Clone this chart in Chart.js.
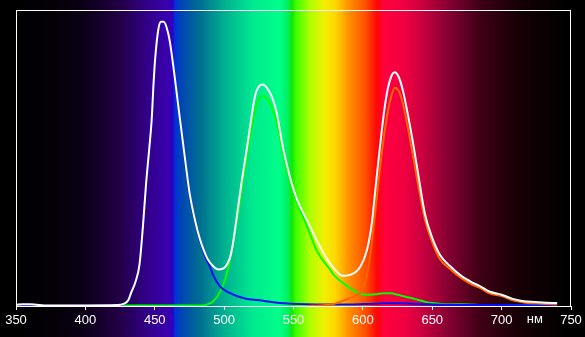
<!DOCTYPE html>
<html>
<head>
<meta charset="utf-8">
<script src="https://cdn.jsdelivr.net/npm/chart.js@4/dist/chart.umd.min.js"></script>
<style>
  html, body { margin: 0; padding: 0; background: #000; }
  #wrap { width: 585px; height: 337px; }
</style>
</head>
<body>
<div id="wrap"><canvas id="c" width="585" height="337"></canvas></div>
<script>
// ---- data (wavelength in nm, relative intensity) ----
const xTicks = [350, 400, 450, 500, 550, 600, 650, 700, 750];
const unitLabel = 'нм';

const whiteNm  = [350,355,360,365,370,400,423,428,431,433,436,439,441.5,443.7,446,447.8,449,450.2,452.6,454.5,456.5,459.5,461,463.4,465.8,468.2,472,475,479,482.6,486,488,492,496,500.5,504,506,508.5,510.7,513,516,519.4,522.3,524.6,527.8,531.6,535,538,542.4,547.5,552.5,559.7,567,574,581,585,590.7,598,603,606.6,608.5,610.5,613.8,616,618,620,621.5,623,626,629,632.5,636,639,644.8,650,655.6,662.8,670,678.6,684,691.6,700,708,716,724,732,740];
const whiteVal = [0.004,0.006,0.006,0.004,0.002,0.002,0.003,0.008,0.02,0.045,0.08,0.14,0.27,0.41,0.53,0.63,0.74,0.83,0.935,0.96,0.96,0.925,0.89,0.81,0.72,0.63,0.49,0.385,0.29,0.225,0.18,0.16,0.135,0.123,0.13,0.16,0.2,0.28,0.355,0.43,0.52,0.628,0.71,0.738,0.748,0.732,0.70,0.65,0.535,0.435,0.36,0.29,0.22,0.16,0.117,0.102,0.105,0.132,0.19,0.285,0.37,0.46,0.6,0.68,0.735,0.77,0.785,0.79,0.772,0.725,0.645,0.555,0.47,0.31,0.23,0.172,0.135,0.105,0.08,0.068,0.048,0.038,0.024,0.016,0.0135,0.011,0.01];

const blueNm  = [350,400,423,428,431,433,436,439,441.5,443.7,446,447.8,449,450.2,452.6,454.5,456.5,459.5,461,463.4,465.8,468.2,472,475,479,482.6,486,488,490,492,497,504,510,516.5,528,540,560,590,605,615,625,640,660,700,740];
const blueVal = [0.002,0.002,0.003,0.007,0.018,0.043,0.078,0.137,0.266,0.405,0.525,0.625,0.735,0.825,0.93,0.955,0.955,0.92,0.885,0.805,0.715,0.625,0.485,0.38,0.285,0.22,0.172,0.15,0.13,0.105,0.066,0.044,0.032,0.024,0.018,0.01,0.006,0.005,0.007,0.009,0.009,0.007,0.004,0.003,0.002];

const greenNm  = [427,485,487,492,497,502,506,510,513,516,519.4,522.3,525,528,531.6,535,538,542.4,547.5,552.5,559.7,567,576,580,588.5,595,600,605,610,615,620,625,630,635,640,645,650,657,676,690,740];
const greenVal = [0.002,0.002,0.004,0.015,0.047,0.11,0.2,0.31,0.4,0.49,0.59,0.66,0.70,0.71,0.695,0.665,0.62,0.515,0.42,0.35,0.27,0.185,0.125,0.1,0.068,0.048,0.04,0.038,0.04,0.043,0.043,0.038,0.032,0.027,0.02,0.014,0.01,0.007,0.005,0.003,0.003];

const redNm  = [560,570,580,588.5,595,598,601,603.5,606,608.5,611,614,617,620,623,626,629,632.5,636,639,644.8,650,655.6,662.8,670,678.6,684,691.6,700,708,716,724,732,740];
const redVal = [0.0,0.002,0.008,0.023,0.035,0.045,0.07,0.12,0.2,0.3,0.41,0.53,0.63,0.70,0.7375,0.725,0.68,0.60,0.51,0.43,0.29,0.215,0.158,0.125,0.097,0.072,0.062,0.042,0.034,0.019,0.012,0.009,0.007,0.006];

// background spectrum stops (nm, colour)
const spectrumNm  = [350,380,400,425,445,460,463,464.5,470,483,500,520,540,546,549,552,562,572,580,590,602,610,616,630,641,663,684,713,742,750];
const spectrumCol = ['#000000','#050008','#0c0018','#220045','#32008a','#3a00b0','#2c00c0','#0030d8','#0048b0','#007090','#00b090','#00e890','#00ff88','#00f060','#10e800','#40ff00','#b0ff00','#f0f000','#ffd800','#ff9000','#ff5000','#ff0808','#ff0040','#f00040','#d00040','#800030','#400015','#150006','#030000','#000000'];

const pts = (xs, ys) => xs.map((x, i) => ({x: x, y: ys[i]}));
const FONT = "'Liberation Sans', Arial, sans-serif";

const bgPlugin = {
  id: 'spectrumBg',
  beforeDraw(chart) {
    const ctx = chart.ctx, xs = chart.scales.x;
    ctx.save();
    ctx.fillStyle = '#000';
    ctx.fillRect(0, 0, chart.width, chart.height);
    const x0 = xs.getPixelForValue(spectrumNm[0]);
    const x1 = xs.getPixelForValue(spectrumNm[spectrumNm.length - 1]);
    const g = ctx.createLinearGradient(x0, 0, x1, 0);
    spectrumNm.forEach((nm, i) => {
      g.addColorStop((xs.getPixelForValue(nm) - x0) / (x1 - x0), spectrumCol[i]);
    });
    ctx.fillStyle = g;
    ctx.fillRect(x0, 0, x1 - x0, chart.height);
    ctx.restore();
  },
  afterDatasetsDraw(chart) {
    const ctx = chart.ctx, a = chart.chartArea, xs = chart.scales.x;
    ctx.save();
    ctx.strokeStyle = '#fff';
    ctx.lineWidth = 1;
    ctx.strokeRect(Math.round(a.left) + 0.5, Math.round(a.top) + 0.5,
                   Math.round(a.right - a.left) - 1, Math.round(a.bottom - a.top));
    ctx.fillStyle = '#fff';
    ctx.font = '13px ' + FONT;
    ctx.textAlign = 'center';
    ctx.textBaseline = 'alphabetic';
    ctx.fillText(unitLabel, xs.getPixelForValue(724), a.bottom + 17);
    ctx.restore();
  }
};

const lineDs = (label, data, color, order) => ({
  label, data, borderColor: color, borderWidth: 2, pointRadius: 0,
  cubicInterpolationMode: 'monotone', fill: false, order
});

new Chart(document.getElementById('c'), {
  type: 'line',
  data: {
    datasets: [
      lineDs('total', pts(whiteNm, whiteVal), '#ffffff', 0),
      lineDs('red', pts(redNm, redVal), '#ff6400', 1),
      lineDs('blue', pts(blueNm, blueVal), '#0010ff', 2),
      lineDs('green', pts(greenNm, greenVal), '#00ff00', 3)
    ]
  },
  plugins: [bgPlugin],
  options: {
    responsive: false,
    animation: false,
    events: [],
    layout: { padding: { left: 16, right: 14, top: 10, bottom: 0 } },
    plugins: { legend: { display: false }, tooltip: { enabled: false } },
    scales: {
      x: {
        type: 'linear', min: 350, max: 750,
        afterFit: s => { s.height = 31; },
        afterBuildTicks: s => { s.ticks = xTicks.map(v => ({ value: v })); },
        ticks: { color: '#fff', font: { family: FONT, size: 13 }, padding: 3, maxRotation: 0, autoSkip: false },
        grid: { drawOnChartArea: false, drawTicks: true, tickLength: 4, color: '#fff', lineWidth: 1 },
        border: { display: true, color: '#fff', width: 1 }
      },
      y: { display: false, min: 0, max: 1 }
    }
  }
});
</script>
</body>
</html>
